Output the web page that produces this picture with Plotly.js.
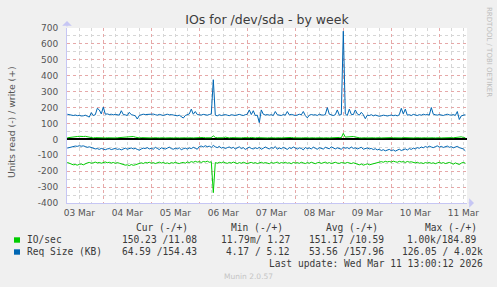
<!DOCTYPE html>
<html>
<head>
<meta charset="utf-8">
<script src="https://cdn.plot.ly/plotly-3.0.1.min.js"></script>
<style>html,body{margin:0;padding:0;background:#f0f0f0;}#chart{width:497px;height:287px;}</style>
</head>
<body>
<div id="chart"></div>
<script>
// ---- data (hourly samples starting 2026-03-03 06:00) ----
const startTime = '2026-03-03T06:00:00';
const ioWrite = [
10,12,16,18,19,18,19,17,18,19,16,12,10,9,11,10,9,10,11,9,
10,9,11,10,9,10,11,12,16,18,19,18,17,18,14,10,9,11,10,9,
10,11,9,10,12,10,9,11,10,9,10,12,10,9,11,10,9,10,12,10,
9,11,10,9,10,11,9,10,12,10,9,11,10,22,12,10,9,11,10,14,
10,9,11,10,9,12,10,9,11,10,9,10,12,10,9,11,10,9,10,11,
9,10,12,10,9,11,10,9,10,11,9,10,12,10,9,11,10,9,10,12,
10,9,11,10,9,10,12,10,9,11,10,9,10,11,9,10,12,10,38,14,
16,18,19,18,15,11,10,9,11,10,9,10,12,10,9,11,10,9,10,11,
9,10,11,10,9,12,10,9,11,10,9,10,11,9,10,12,10,9,11,10,
9,10,12,10,9,11,10,9,10,11,10,9,11,10,12,16,17,16,12,10];
const ioRead = [
-145,-150,-156,-160,-158,-162,-157,-155,-160,-152,-148,-145,-150,-147,-143,-148,-145,-150,-146,-142,
-147,-144,-149,-145,-151,-146,-150,-155,-158,-162,-160,-165,-158,-163,-160,-155,-150,-147,-152,-145,
-148,-144,-150,-146,-152,-147,-143,-149,-145,-151,-148,-153,-146,-150,-144,-149,-152,-147,-145,-150,
-142,-146,-140,-144,-138,-143,-140,-145,-139,-142,-137,-144,-141,-335,-146,-150,-144,-148,-142,-147,
-151,-145,-149,-143,-148,-152,-146,-150,-144,-149,-153,-147,-145,-150,-146,-152,-148,-144,-150,-146,
-149,-153,-145,-150,-147,-143,-151,-146,-149,-144,-150,-147,-153,-145,-149,-146,-151,-144,-148,-152,
-146,-150,-144,-149,-153,-147,-145,-151,-148,-143,-150,-146,-152,-147,-144,-149,-151,-146,-148,-150,
-145,-149,-152,-147,-150,-156,-160,-155,-162,-158,-154,-160,-157,-152,-148,-145,-142,-140,-144,-138,
-142,-139,-143,-137,-141,-144,-138,-142,-140,-145,-139,-143,-141,-146,-148,-144,-150,-147,-152,-146,
-149,-145,-151,-147,-153,-148,-144,-150,-146,-152,-148,-145,-150,-156,-148,-152,-158,-149,-145,-150];
const reqWrite = [
158,155,152,150,153,149,151,147,148,152,146,140,168,150,155,195,185,160,203,158,
160,156,158,154,157,155,152,180,156,154,150,170,155,152,148,128,150,155,158,156,
157,154,156,159,155,152,157,153,150,155,158,154,156,153,150,148,152,145,134,150,
155,160,190,158,175,156,154,153,157,155,152,156,160,375,152,148,155,150,153,156,
152,149,155,153,150,154,157,153,150,155,158,185,156,180,150,152,105,185,158,153,
156,152,155,150,175,155,153,150,156,152,175,154,157,155,150,153,158,154,175,150,
135,152,156,153,155,150,158,154,152,156,200,158,153,150,155,185,152,156,680,160,
150,190,157,155,185,160,152,170,155,130,152,150,155,148,153,150,145,148,152,150,
147,150,153,149,152,148,155,195,160,190,152,155,150,157,153,150,155,152,158,154,
156,153,200,158,155,152,156,153,150,155,158,154,152,156,150,175,125,148,152,155];
const reqRead = [
-55,-52,-48,-45,-42,-44,-40,-43,-41,-45,-50,-47,-52,-56,-60,-58,-63,-57,-62,-65,
-60,-58,-64,-61,-57,-63,-60,-66,-59,-55,-62,-58,-54,-60,-57,-63,-68,-60,-55,-58,
-52,-60,-56,-62,-50,-57,-64,-53,-58,-61,-55,-49,-58,-62,-56,-60,-53,-65,-59,-55,
-61,-54,-58,-50,-56,-62,-45,-42,-48,-40,-46,-43,-50,-38,-47,-52,-44,-55,-50,-58,
-52,-48,-56,-50,-60,-54,-47,-58,-52,-63,-55,-49,-57,-60,-53,-58,-50,-62,-56,-48,
-55,-60,-51,-57,-45,-62,-54,-59,-50,-56,-63,-52,-58,-48,-55,-61,-53,-57,-66,-51,
-58,-54,-60,-49,-56,-62,-52,-57,-61,-50,-55,-59,-47,-56,-60,-53,-58,-62,-50,-56,
-52,-59,-48,-57,-53,-60,-55,-50,-62,-58,-54,-60,-57,-64,-59,-66,-62,-70,-65,-72,
-68,-63,-71,-66,-74,-69,-62,-70,-65,-60,-67,-58,-63,-55,-60,-52,-56,-48,-53,-45,
-50,-43,-48,-52,-46,-41,-49,-44,-51,-47,-42,-50,-46,-53,-48,-44,-52,-56,-60,-72];
const yTickVals = [-400,-300,-200,-100,0,100,200,300,400,500,600,700];
const yTickText = ['-400','-300','-200','-100','0','100','200','300','400','500','600','700'];
const legendHeader = ['Cur (-/+)','Min (-/+)','Avg (-/+)','Max (-/+)'];
const ioStats = ['150.23 /11.08','11.79m/ 1.27','151.17 /10.59','1.00k/184.89'];
const reqStats = ['64.59 /154.43','4.17 / 5.12','53.56 /157.96','126.05 / 4.02k'];

// ---- build ----
const t0 = new Date(startTime + 'Z').getTime();
const times = ioWrite.map((_, i) => new Date(t0 + i * 3600000).toISOString().replace('Z',''));
const GREEN = '#00cc00', BLUE = '#0066b3';
const tr = (y, c) => ({x: times, y: y, type: 'scatter', mode: 'lines', line: {color: c, width: 1}, hoverinfo: 'skip', showlegend: false});
const data = [tr(ioRead, GREEN), tr(ioWrite, GREEN), tr(reqRead, BLUE), tr(reqWrite, BLUE)];

const L = 67, R = 467, T = 28, B = 203;
const px = x => (x - L) / (R - L);
const py = y => (B - y) / (B - T);
const mono = {family: 'DejaVu Sans Mono', size: 9.6, color: '#3a3a3a'};
const ann = [];
function txt(x, y, text, anchor, font) {
  ann.push({xref: 'paper', yref: 'paper', x: px(x), y: py(y), text: text, showarrow: false,
    xanchor: anchor, yanchor: 'middle', font: font, borderpad: 0});
}
const colRight = [189, 284, 379, 478];
const valRight = [198, 292, 385, 478];
const valRight2 = [198, 291, 385, 484];
legendHeader.forEach((s, i) => txt(colRight[i], 227.3, s, 'right', mono));
txt(26, 239.7, 'IO/sec', 'left', mono);
txt(26, 251.7, 'Req Size (KB)', 'left', mono);
ioStats.forEach((s, i) => txt(valRight[i], 239.7, s, 'right', mono));
reqStats.forEach((s, i) => txt(valRight2[i], 251.7, s, 'right', mono));
txt(484, 263.3, 'Last update: Wed Mar 11 13:00:12 2026', 'right', mono);
txt(248, 276, 'Munin 2.0.57', 'center', {family: 'DejaVu Sans', size: 7.5, color: '#c4c4c4'});
ann.push({xref: 'paper', yref: 'paper', x: px(11), y: py(122), text: 'Units read (-) / write (+)',
  textangle: -90, showarrow: false, xanchor: 'center', yanchor: 'middle',
  font: {family: 'DejaVu Sans', size: 9.3, color: '#555'}});
ann.push({xref: 'paper', yref: 'paper', x: px(489), y: py(52), text: 'RRDTOOL / TOBI OETIKER',
  textangle: 90, showarrow: false, xanchor: 'center', yanchor: 'middle',
  font: {family: 'DejaVu Sans', size: 7, color: '#bdbdbd'}});
// axis arrows
ann.push({xref: 'paper', yref: 'paper', x: px(67), y: py(21), ax: 0, ay: 7, text: '', showarrow: true,
  arrowhead: 1, arrowsize: 1.6, arrowwidth: 1, arrowcolor: '#c6c6f4'});
ann.push({xref: 'paper', yref: 'paper', x: px(474), y: py(203), ax: -7, ay: 0, text: '', showarrow: true,
  arrowhead: 1, arrowsize: 1.6, arrowwidth: 1, arrowcolor: '#c6c6f4'});

const shapes = [
  {type: 'rect', xref: 'paper', yref: 'paper', x0: px(14), x1: px(20), y0: py(242.7), y1: py(237.3), fillcolor: GREEN, line: {width: 0}},
  {type: 'rect', xref: 'paper', yref: 'paper', x0: px(14), x1: px(20), y0: py(254.7), y1: py(249.3), fillcolor: BLUE, line: {width: 0}}
];

const layout = {
  width: 497, height: 287,
  margin: {l: L, r: 497 - R, t: T, b: 287 - B, pad: 0},
  paper_bgcolor: '#f0f0f0', plot_bgcolor: '#ffffff',
  showlegend: false,
  title: {text: 'IOs for /dev/sda - by week', x: 248.5 / 497, xanchor: 'center', xref: 'paper',
    y: 1 - 19.5 / 287, yanchor: 'middle', yref: 'container',
    font: {family: 'DejaVu Sans', size: 12.5, color: '#3c3c3c'}},
  xaxis: {
    type: 'date', range: ['2026-03-03 05:51', '2026-03-11 13:51'],
    tick0: '2026-03-03', dtick: 86400000, tickformat: '%d %b', ticklabelmode: 'period',
    showgrid: true, gridcolor: '#e6a8a8', griddash: 'dot', gridwidth: 1,
    minor: {dtick: 21600000, tick0: '2026-03-03', showgrid: true, gridcolor: '#d6d6d6', griddash: 'dot', gridwidth: 1},
    showline: true, linecolor: '#c6c6f4', linewidth: 1, ticks: '', zeroline: false,
    tickfont: {family: 'DejaVu Sans', size: 9, color: '#555'}, ticklabelstandoff: 1,
    fixedrange: true
  },
  yaxis: {
    range: [-400, 700], tickmode: 'array', tickvals: yTickVals, ticktext: yTickText,
    showgrid: true, gridcolor: '#e6a8a8', griddash: 'dot', gridwidth: 1,
    minor: {dtick: 50, tick0: 0, showgrid: true, gridcolor: '#d6d6d6', griddash: 'dot', gridwidth: 1},
    showline: true, linecolor: '#c6c6f4', linewidth: 1, ticks: '',
    zeroline: true, zerolinecolor: '#000000', zerolinewidth: 2,
    tickfont: {family: 'DejaVu Sans', size: 9, color: '#555'}, ticklabelstandoff: 6,
    fixedrange: true
  },
  annotations: ann,
  shapes: shapes
};
Plotly.newPlot('chart', data, layout, {displayModeBar: false, staticPlot: true});
</script>
</body>
</html>
